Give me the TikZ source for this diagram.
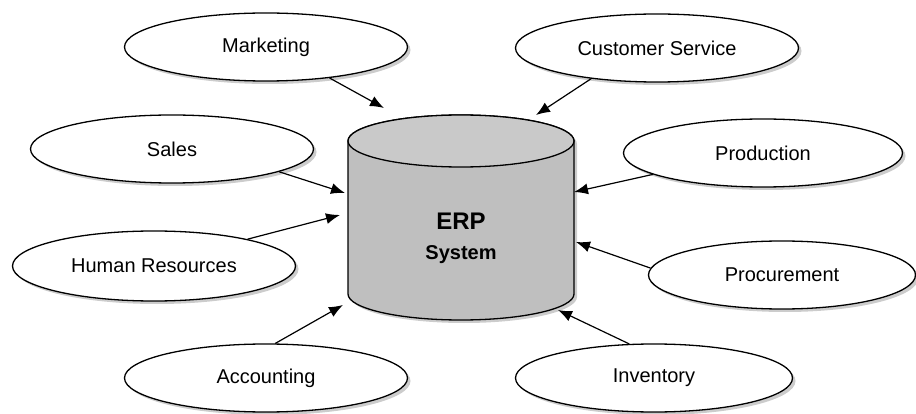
\documentclass[tikz,border=0pt]{standalone}
\usepackage{fontspec}
\setmainfont{Liberation Sans}
\usetikzlibrary{shapes.geometric,shadows,arrows.meta}
\definecolor{erpbody}{gray}{0.75}
\definecolor{erptop}{gray}{0.79}
\tikzset{>={Latex[length=14pt,width=11pt]}}
\tikzset{dept/.style={ellipse,draw,line width=1.3pt,fill=white,inner sep=0pt,
  minimum width=283pt,minimum height=68pt,font=\fontsize{20}{24}\selectfont,
  drop shadow={shadow xshift=3pt,shadow yshift=-3pt,fill=gray!80}}}
\begin{document}
\begin{tikzpicture}[x=1pt,y=-1pt]
            \useasboundingbox (0,0) rectangle (916,414);
            \node[dept] (mkt) at (266,47) {Marketing};
            \node[dept] (sales) at (172,149) {Sales};
            \node[dept,minimum height=70pt] (hr) at (154,266) {Human Resources};
            \node[dept] (acc) at (266,378) {Accounting};
            \node[dept] (cs) at (657,48) {Customer Service};
            \node[dept,minimum width=279pt] (prod) at (763,153) {Production};
            \node[dept,minimum width=267pt] (proc) at (782,275) {Procurement};
            \node[dept,minimum width=277pt] (inv) at (654,378) {Inventory};
            \draw[line width=1.3pt,fill=erpbody,drop shadow={shadow xshift=3pt,shadow yshift=-3pt,fill=gray!80}]
                (348,141) -- (348,294) arc[start angle=180,end angle=0,x radius=113,y radius=26]
                -- (574,141) arc[start angle=0,end angle=-180,x radius=113,y radius=26] -- cycle;
            \draw[line width=1.3pt,fill=erptop] (461,141) ellipse[x radius=113,y radius=26];
            \node[anchor=base,font=\bfseries\fontsize{24}{28}\selectfont] (erp) at (461,230) {ERP};
            \node[anchor=base,font=\bfseries\fontsize{20}{24}\selectfont] (sys) at (461,260) {System};
            \coordinate (t-mkt) at (384,108);
            \coordinate (t-sales) at (345,193);
            \coordinate (t-hr) at (340,215);
            \coordinate (t-acc) at (343,305);
            \coordinate (t-cs) at (536,115);
            \coordinate (t-prod) at (574,192);
            \coordinate (t-proc) at (576,242);
            \coordinate (t-inv) at (558,310);
            \foreach \from/\to in {mkt.-26/t-mkt,sales.-12/t-sales,hr.16/t-hr,acc.75/t-acc,
                cs.205/t-cs,prod.191/t-prod,proc.177/t-proc,inv.126/t-inv}
                \draw[->,line width=1.2pt] (\from) -- (\to);
        \end{tikzpicture}
\end{document}
